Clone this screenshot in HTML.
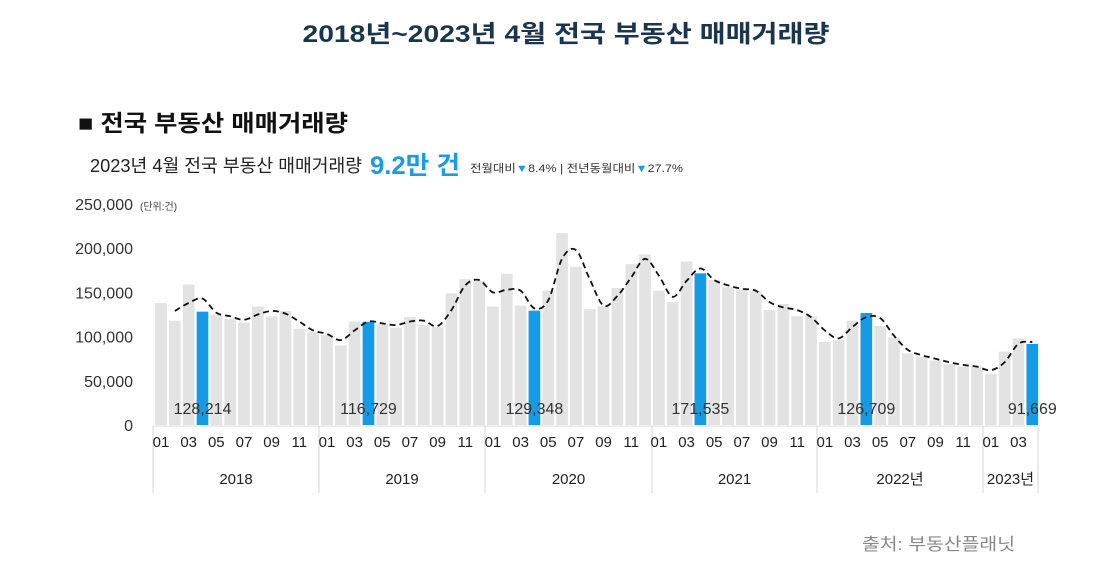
<!DOCTYPE html>
<html><head><meta charset="utf-8"><style>
html,body{margin:0;padding:0;background:#fff;}
svg{display:block;font-family:"Liberation Sans","Noto Sans CJK KR",sans-serif;}
</style></head><body>
<svg id="chart" width="1107" height="582" viewBox="0 0 1107 582">
<text x="566" y="42" text-anchor="middle" font-size="24" font-weight="bold" fill="#1b3550" textLength="527" lengthAdjust="spacingAndGlyphs">2018년~2023년 4월 전국 부동산 매매거래량</text>
<text x="78" y="131" font-size="23" font-weight="bold" fill="#111" textLength="270" lengthAdjust="spacingAndGlyphs">■ 전국 부동산 매매거래량</text>
<text x="90" y="172" font-size="18" fill="#222" textLength="272" lengthAdjust="spacingAndGlyphs">2023년 4월 전국 부동산 매매거래량</text>
<text x="370" y="174" font-size="25" font-weight="bold" fill="#1a9be6" textLength="90" lengthAdjust="spacingAndGlyphs">9.2만 건</text>
<text x="470" y="172" font-size="11" fill="#333" textLength="213" lengthAdjust="spacingAndGlyphs">전월대비<tspan fill="#1a9be6">▼</tspan>8.4% | 전년동월대비<tspan fill="#1a9be6">▼</tspan>27.7%</text>
<text x="140" y="210" font-size="10" fill="#444">(단위:건)</text>
<g id="yaxis"></g>
<g id="bars"></g>
<path id="trend" fill="none" stroke="#111" stroke-width="1.8" stroke-dasharray="6,4"></path>
<g id="labels"></g>
<g id="xaxis"></g>
<text x="862" y="550" font-size="17" fill="#888" textLength="153" lengthAdjust="spacingAndGlyphs">출처: 부동산플래닛</text>
</svg>
<script>
const months = ["01","02","03","04","05","06","07","08","09","10","11","12"];
const years = ["2018","2019","2020","2021","2022년","2023년"];
const barValues = [138000,118000,159000,128214,125000,120000,116000,134000,123000,129000,109000,105000,
102000,90000,117000,116729,114000,110000,122000,113000,111000,149000,165000,163000,
134000,171000,135000,129348,152000,217000,179000,131000,134000,155000,182000,193000,
152000,139000,185000,171535,164000,156000,153000,152000,130000,137000,123000,123000,
94000,96000,118000,126709,112000,99000,81000,77000,73000,69000,66000,66000,
58000,83000,98000,91669];
const trendValues = [null,129000,138000,143000,127000,123000,119000,125000,129000,126000,117000,107000,
103000,96000,107000,117000,115000,113000,117000,118000,112000,130000,158000,164000,
150000,153000,152000,132000,141000,188000,198000,165000,135000,146000,167000,188000,
169000,145000,163000,177000,164000,158000,154000,152000,139000,133000,130000,122000,
107000,98000,111000,122000,121000,101000,85000,79000,75000,71000,68000,66000,
62000,71000,92000,94000];
const highlightIdx = [3,15,27,39,51,63];
const highlightLabels = ["128,214","116,729","129,348","171,535","126,709","91,669"];
const yTicks = [0,50000,100000,150000,200000,250000];
const yTickLabels = ["0","50,000","100,000","150,000","200,000","250,000"];

const NS="http://www.w3.org/2000/svg";
const y0=425, pxPer=0.000884;
const yS=v=>y0-v*pxPer;
const xS=i=>161+i*13.83;
function mk(tag,attrs,parent){const e=document.createElementNS(NS,tag);for(const k in attrs)e.setAttribute(k,attrs[k]);parent.appendChild(e);return e;}

const ya=document.getElementById('yaxis');
yTicks.forEach((t,k)=>{
  const e=mk('text',{x:133,y:yS(t)+6,'text-anchor':'end','font-size':16,fill:'#333'},ya);
  
  
  e.textContent=yTickLabels[k];
});

const bg=document.getElementById('bars');
barValues.forEach((v,i)=>{
  const hl=highlightIdx.includes(i);
  const r=mk('rect',{x:xS(i)-5.85,y:yS(v),width:11.7,height:y0-yS(v),fill:hl?'#159ae6':'#e3e3e3'},bg);
  
  
});

const pts=[];trendValues.forEach((v,i)=>{if(v!==null)pts.push([xS(i),yS(v)]);});
let d=`M${pts[0][0]},${pts[0][1]}`;
for(let i=0;i<pts.length-1;i++){
  const p0=pts[Math.max(0,i-1)],p1=pts[i],p2=pts[i+1],p3=pts[Math.min(pts.length-1,i+2)];
  const c1=[p1[0]+(p2[0]-p0[0])/6,p1[1]+(p2[1]-p0[1])/6];
  const c2=[p2[0]-(p3[0]-p1[0])/6,p2[1]-(p3[1]-p1[1])/6];
  d+=` C${c1[0]},${c1[1]} ${c2[0]},${c2[1]} ${p2[0]},${p2[1]}`;
}
document.getElementById('trend').setAttribute('d',d);

const lg=document.getElementById('labels');
highlightIdx.forEach((idx,k)=>{
  const e=mk('text',{x:xS(idx),y:414,'text-anchor':'middle','font-size':16,fill:'#333'},lg);
  
  
  e.textContent=highlightLabels[k];
});

const xa=document.getElementById('xaxis');
const hl=mk('line',{x1:153,y1:426,x2:1038,y2:426,stroke:'#ddd','stroke-width':1},xa);


const bounds=[153,319,485,652,817,983,1038];
bounds.forEach(b=>{
  const l=mk('line',{x1:b,y1:426,x2:b,y2:493,stroke:'#ddd','stroke-width':1.2},xa);
  
  
});
barValues.forEach((v,i)=>{
  const m=i%12;
  if(m%2===0){
    const e=mk('text',{x:xS(i),y:447,'text-anchor':'middle','font-size':15,fill:'#222'},xa);
    
    
    e.textContent=months[m];
  }
});
years.forEach((yr,k)=>{
  const e=mk('text',{x:(bounds[k]+bounds[k+1])/2,y:484,'text-anchor':'middle','font-size':15,fill:'#222'},xa);
  
  
  e.textContent=yr;
});
</script>
</body></html>
